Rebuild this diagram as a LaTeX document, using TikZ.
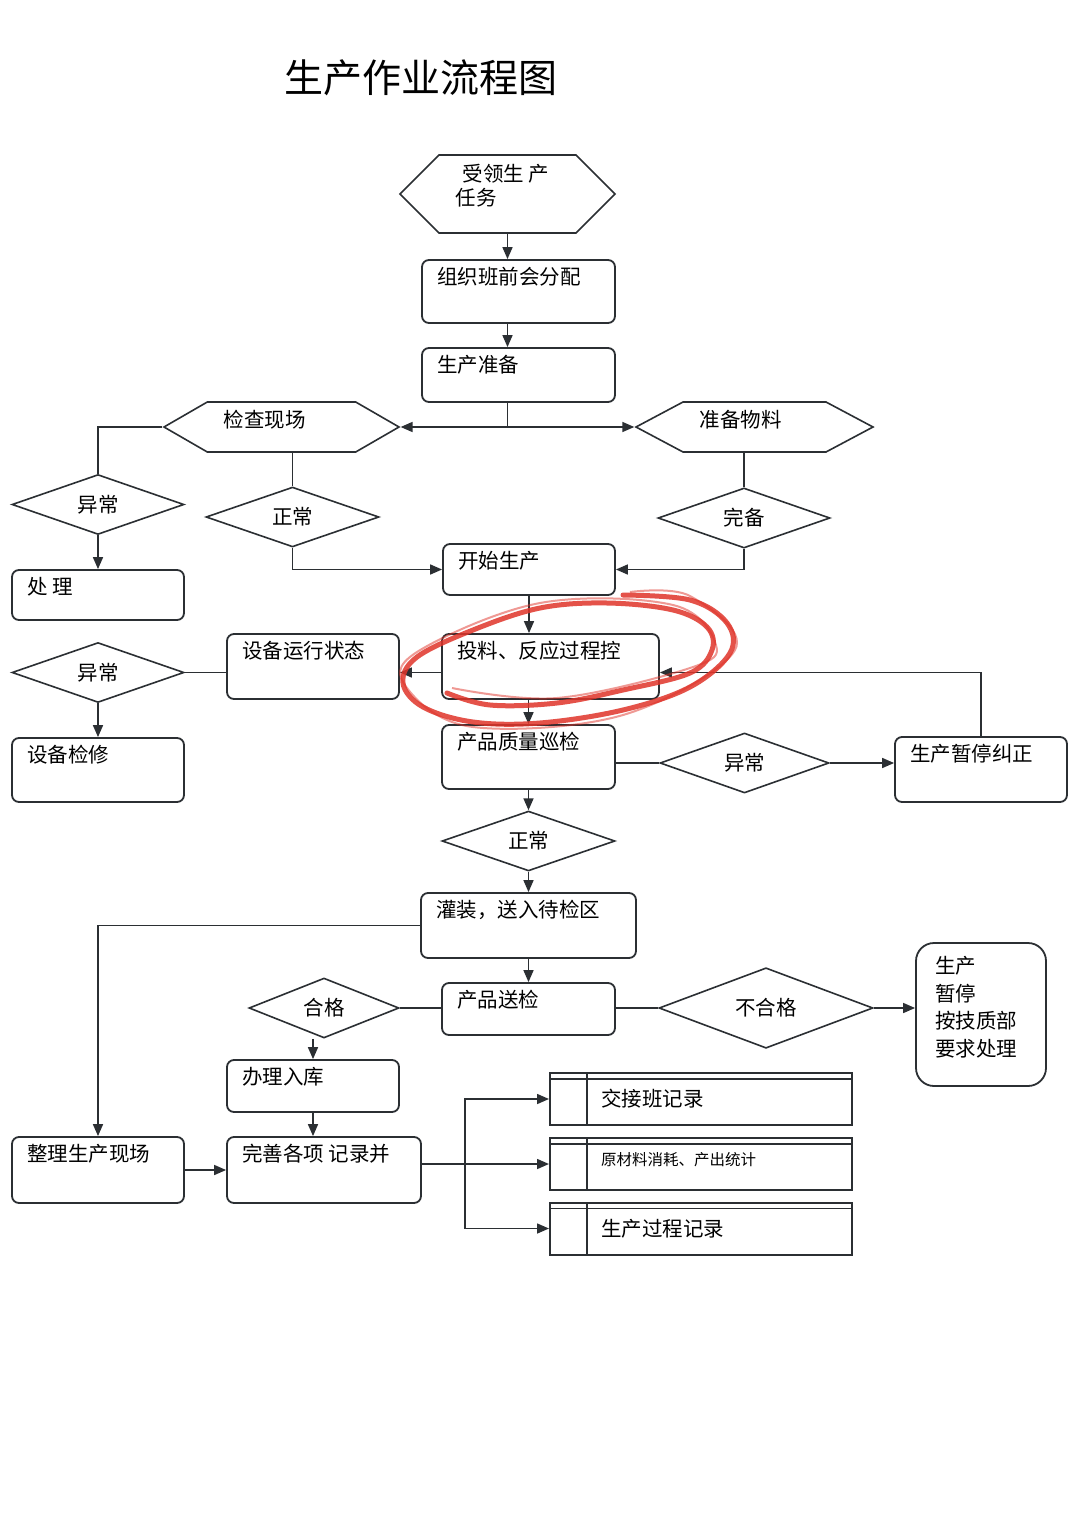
\documentclass[tikz,border=0pt]{standalone}
\usepackage{fontspec}
\setmainfont{Noto Sans CJK SC}
\usetikzlibrary{arrows.meta,positioning,shapes.geometric,shapes.symbols}
\definecolor{ln}{HTML}{2B2F33}
\definecolor{pen}{HTML}{E0342A}

\begin{document}
\begin{tikzpicture}[x=1pt, y=-1pt, font=\fontsize{20.5}{24}\selectfont,
  box/.style={draw=ln, line width=1.8pt, rounded corners=7pt, inner sep=0pt},
  hexa/.style={draw=ln, line width=1.6pt, signal, signal to=west and east, inner sep=0pt},
  cond/.style={draw=ln, line width=1.6pt, diamond, inner sep=0pt},
  rec/.style={draw=ln, line width=2pt, inner sep=0pt, minimum width=302pt, minimum height=52pt,
    path picture={\draw[ln, line width=1.6pt] ([xshift=37pt]path picture bounding box.north west) -- ([xshift=37pt]path picture bounding box.south west);
      \draw[ln, line width=1.4pt] ([yshift=-6pt]path picture bounding box.north west) -- ([yshift=-6pt]path picture bounding box.north east);}},
  boxtext/.style={anchor=north west, inner sep=0pt, xshift=16pt, yshift=-8pt},
  rectext/.style={anchor=west, inner sep=0pt, xshift=52pt},
  line/.style={draw=ln, line width=1.6pt},
  >={Triangle[length=12pt,width=10pt]}]
\useasboundingbox[fill=white] (0,0) rectangle (1080,1514);

\node (title) at (421,78) {\fontsize{39}{40}\selectfont 生产作业流程图};

% top part
\node[hexa, minimum width=215pt, minimum height=78pt, signal pointer angle=90,
  label={[align=left, xshift=-5pt, yshift=8pt]center:\hspace*{7pt}受领生 产\\任务}] (shouling) at (507.5,194) {};
\node[box, minimum width=193pt, minimum height=63pt, label={[boxtext]north west:组织班前会分配}] (zuzhi) at (518.5,291.5) {};
\node[box, minimum width=193pt, minimum height=54pt, label={[boxtext]north west:生产准备}] (zhunbei) at (518.5,375) {};
\node[hexa, minimum width=235pt, minimum height=50pt, signal pointer angle=60,
  label={[xshift=-17pt, yshift=7pt]center:检查现场}] (jiancha) at (281.5,427) {};
\node[hexa, minimum width=237pt, minimum height=50pt, signal pointer angle=56,
  label={[xshift=-14pt, yshift=7pt]center:准备物料}] (wuliao) at (754.5,427) {};
\coordinate (fork) at (shouling |- jiancha);

\node[cond, minimum width=172pt, minimum height=51pt] (yc1) at (98,504.5) {异常};
\node[box, minimum width=172pt, minimum height=50pt, label={[boxtext]north west:处 理}] (chuli) at (98,595) {};
\node[cond, minimum width=173pt, minimum height=52pt] (zc1) at (292.5,517) {正常};
\node[cond, minimum width=172pt, minimum height=54pt] (wanbei) at (744,518) {完备};
\node[box, minimum width=172pt, minimum height=51pt, label={[boxtext]north west:开始生产}] (kaishi) at (529,569.5) {};

% middle part
\node[box, minimum width=217pt, minimum height=65pt, label={[boxtext]north west:投料、反应过程控}] (touliao) at (550.5,666.5) {};
\node[box, minimum width=172pt, minimum height=65pt, label={[boxtext]north west:设备运行状态}] (shebei) at (313,666.5) {};
\node[cond, minimum width=172pt, minimum height=51pt] (yc2) at (98,672.5) {异常};
\node[box, minimum width=172pt, minimum height=64pt, label={[boxtext]north west:设备检修}] (jianxiu) at (98,770) {};
\node[box, minimum width=173pt, minimum height=64pt, label={[boxtext]north west:产品质量巡检}] (xunjian) at (528.5,757) {};
\node[cond, minimum width=169pt, minimum height=52pt] (yc3) at (744.5,763) {异常};
\node[box, minimum width=172pt, minimum height=65pt, label={[boxtext]north west:生产暂停纠正}] (zanting) at (981,769.5) {};
\node[cond, minimum width=173pt, minimum height=52pt] (zc2) at (528.5,841) {正常};

% bottom part
\node[box, minimum width=215pt, minimum height=65pt, label={[boxtext]north west:灌装，送入待检区}] (guanzhuang) at (528.5,925.5) {};
\node[box, minimum width=173pt, minimum height=52pt, label={[boxtext]north west:产品送检}] (songjian) at (528.5,1009) {};
\node[cond, minimum width=150pt, minimum height=52pt] (hege) at (324,1008) {合格};
\node[cond, minimum width=214pt, minimum height=52pt] (bhg) at (766,1008) {不合格};
\node[box, rounded corners=18pt, minimum width=130pt, minimum height=143pt,
  label={[boxtext, xshift=4pt, yshift=-6pt, align=left, font=\fontsize{20.5}{27.5}\selectfont]north west:生产\\暂停\\按技质部\\要求处理}] (chuzhi) at (981,1014.5) {};
\node[box, minimum width=172pt, minimum height=52pt, label={[boxtext]north west:办理入库}] (ruku) at (313,1086) {};
\node[box, minimum width=194pt, minimum height=66pt, label={[boxtext]north west:完善各项 记录并}] (wanshan) at (324,1170) {};
\node[box, minimum width=172pt, minimum height=66pt, label={[boxtext]north west:整理生产现场}] (zhengli) at (98,1170) {};
\node[rec, label={[rectext]west:交接班记录}] (rec1) at (701,1099) {};
\node[rec, label={[rectext, yshift=4pt, font=\fontsize{15.5}{18}\selectfont]west:原材料消耗、产出统计}] (rec2) at (701,1164) {};
\node[rec, label={[rectext]west:生产过程记录}] (rec3) at (701,1228.5) {};
\coordinate (bus) at (465,1164);

% connectors
\draw[line, ->] (shouling) -- (shouling |- zuzhi.north);
\draw[line, ->] (zuzhi.south -| shouling) -- (zhunbei.north -| shouling);
\draw[line] (zhunbei.south -| shouling) -- (fork);
\draw[line, ->] (fork) -- (jiancha.east);
\draw[line, ->] (fork) -- (wuliao.west);
\draw[line] (jiancha.west) -| (yc1.north);
\draw[line, ->] (yc1) -- (chuli);
\draw[line] (jiancha.south -| zc1) -- (zc1.north);
\draw[line, ->] (zc1.south) |- (kaishi.west);
\draw[line] (wuliao.south -| wanbei) -- (wanbei.north);
\draw[line, ->] (wanbei.south) |- (kaishi.east);
\draw[line, ->] (kaishi) -- (kaishi |- touliao.north);
\draw[line, ->] (touliao.west |- yc2) -- (shebei.east |- yc2);
\draw[line] (shebei.west |- yc2) -- (yc2.east);
\draw[line, ->] (yc2) -- (jianxiu);
\draw[line, ->] (touliao.south -| xunjian) -- (xunjian.north);
\draw[line] (xunjian.east |- yc3) -- (yc3.west);
\draw[line, ->] (yc3.east) -- (zanting.west |- yc3);
\draw[line, ->] (zanting.north) |- (touliao.east |- yc2);
\draw[line, ->] (xunjian) -- (zc2);
\draw[line, ->] (zc2) -- (guanzhuang);
\draw[line, ->] (guanzhuang) -- (songjian);
\draw[line, ->] (guanzhuang.west) -| (zhengli.north);
\draw[line] (songjian.west |- hege) -- (hege.east);
\draw[line, ->] (hege.south -| ruku) -- (ruku.north);
\draw[line, ->] (ruku) -- (ruku |- wanshan.north);
\draw[line, ->] (zhengli) -- (wanshan);
\draw[line] (songjian.east |- bhg) -- (bhg.west);
\draw[line, ->] (bhg.east) -- (chuzhi.west |- bhg);
\draw[line, ->] (wanshan.east |- rec2) -- (rec2.west);
\draw[line, ->] (bus) |- (rec1.west);
\draw[line, ->] (bus) |- (rec3.west);

% red marker loop
\draw[pen, opacity=0.85, line width=5pt, line cap=round] plot[smooth, tension=0.6] coordinates {
  (447,693) (490,705) (557,703) (623,690) (690,673) (712,650) (707,627) (673,610) (607,603)
  (540,608) (473,630) (417,657) (403,683) (423,707) (473,722) (540,723) (623,710) (690,687)
  (730,653) (727,623) (690,600) (623,595)};
\draw[pen, opacity=0.5, line width=2pt] plot[smooth, tension=0.6] coordinates {
  (452,688) (557,698) (690,668) (716,645) (673,605) (540,603) (417,652) (407,688) (473,727)
  (623,715) (735,650) (690,596) (630,592)};
\end{tikzpicture}
\end{document}
